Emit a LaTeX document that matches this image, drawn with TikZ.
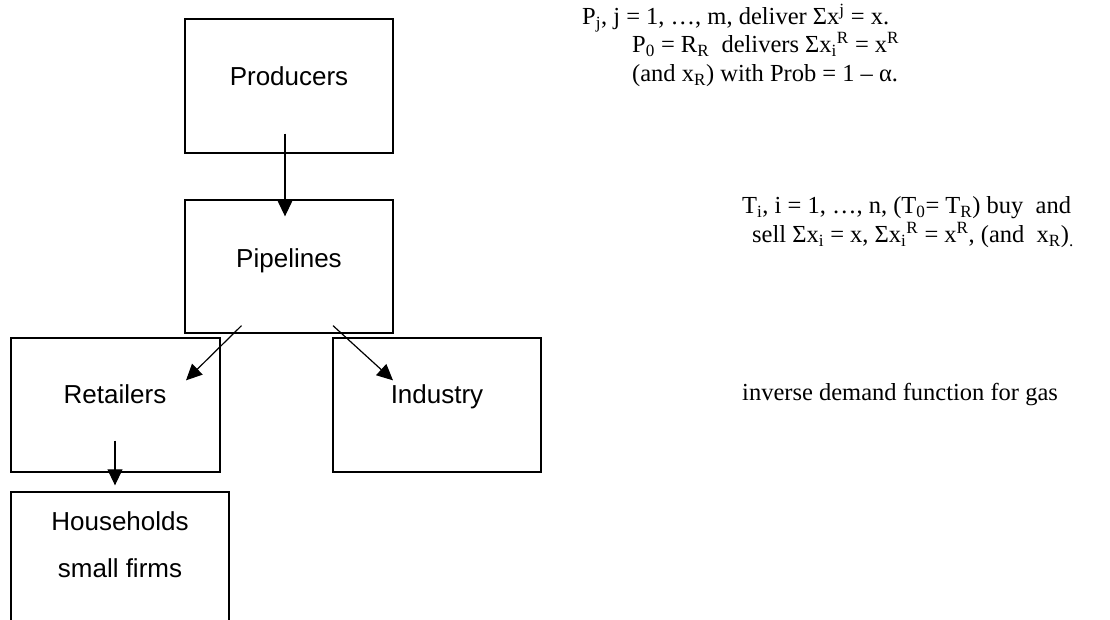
\documentclass[tikz,border=0pt]{standalone}
\usepackage{fontspec}
\setmainfont{Liberation Serif}
\newfontfamily\arialfont{Liberation Sans}
\usetikzlibrary{arrows.meta}
\newcommand{\sps}[1]{\textsuperscript{#1}}
\newcommand{\sbs}[1]{\textsubscript{#1}}
\begin{document}
\begin{tikzpicture}[x=1pt,y=-1pt,
  box/.style={draw=black, line width=1.3pt, inner sep=0pt},
  lbl/.style={font=\arialfont\fontsize{26}{30}\selectfont, anchor=base, inner sep=0pt},
  txt/.style={font=\fontsize{24.5}{28}\selectfont, anchor=base west, inner sep=0pt},
  arr/.style={line width=1.2pt, -{Triangle[length=16pt,width=15pt]}}]
\useasboundingbox (0,0) rectangle (1110,620);
\clip (0,0) rectangle (1110,620);
% boxes
\node[box, minimum width=208pt, minimum height=134pt] (prod) at (289,86) {};
\node[box, minimum width=208pt, minimum height=133pt] (pipe) at (289,266.5) {};
\node[box, minimum width=209pt, minimum height=134pt] (ret) at (115.5,405) {};
\node[box, minimum width=208pt, minimum height=134pt] (ind) at (437,405) {};
\node[box, minimum width=218pt, minimum height=140pt] (hh) at (120,562) {};
% labels
\node[lbl] (prodt) at (289,86) {Producers};
\node[lbl] (pipet) at (289,267) {Pipelines};
\node[lbl] (rett) at (115,403) {Retailers};
\node[lbl] (indt) at (437,403) {Industry};
\node[lbl] (hht1) at (120,530) {Households};
\node[lbl] (hht2) at (120,577) {small firms};
% connectors
\draw[arr] ([xshift=-4pt,yshift=20pt]prod.south) -- ([xshift=-4pt,yshift=-17pt]pipe.north);
\draw[arr] ([xshift=-47.5pt,yshift=8pt]pipe.south) -- ([xshift=70.5pt,yshift=-43pt]ret.north);
\draw[arr] ([xshift=44pt,yshift=8pt]pipe.south) -- ([xshift=-44pt,yshift=-43pt]ind.north);
\draw[arr] ([xshift=-0.5pt,yshift=32pt]ret.south) -- ([xshift=-5pt,yshift=6pt]hh.north);
% right-hand texts
\node[txt] (t1) at (582,25) {P\sbs{j}, j = 1, …, m, deliver Σx\sps{j} = x.};
\node[txt] (t2) at (632,53) {P\sbs{0} = R\sbs{R}\ \ delivers Σx\sbs{i}\sps{R} = x\sps{R}};
\node[txt] (t3) at (632,82) {(and x\sbs{R}) with Prob = 1 – α.};
\node[txt] (t4) at (742,214) {T\sbs{i}, i = 1, …, n, (T\sbs{0}= T\sbs{R}) buy\ \ and};
\node[txt] (t5) at (752,243) {sell Σx\sbs{i} = x, Σx\sbs{i}\sps{R} = x\sps{R}, (and\ \ x\sbs{R})\sbs{.}};
\node[txt] (t6) at (742,400) {inverse demand function for gas};
\end{tikzpicture}
\end{document}
